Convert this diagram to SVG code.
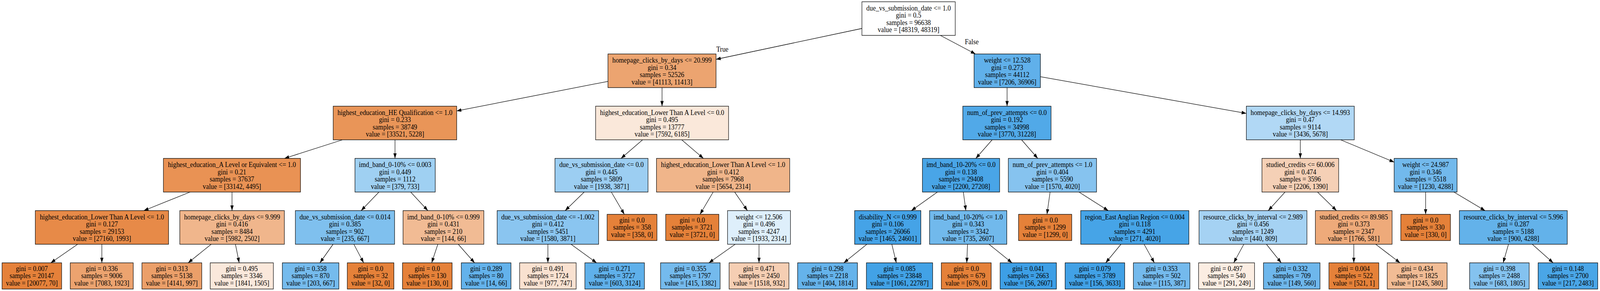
<svg xmlns="http://www.w3.org/2000/svg" width="4509" height="744" viewBox="0 0 4509 744" preserveAspectRatio="none" style="width:100vw;height:100vh;display:block">
<style>
.n rect{stroke:#000;stroke-width:1.3}
text{font-family:"Liberation Serif","Times New Roman",serif;font-size:18.5px;text-anchor:middle;fill:#000}
.e line{stroke:#000;stroke-width:1.3;marker-end:url(#a)}
</style>
<defs>
<marker id="a" markerUnits="userSpaceOnUse" markerWidth="14" markerHeight="10" refX="13.2" refY="4.6" orient="auto"><path d="M0,0L13.2,4.6L0,9.2z" fill="#000"/></marker>
</defs>
<rect x="0" y="0" width="4509" height="744" fill="#fff"/>
<g id="edges" class="e">
<line x1="2429" y1="72.76" x2="2017.9" y2="151.74"/>
<line x1="2650" y1="90.5" x2="2749" y2="138"/>
<line x1="1713.3" y1="208.02" x2="1287" y2="283.63"/>
<line x1="1865.7" y1="224" x2="1865.7" y2="271.5"/>
<line x1="2838.1" y1="224" x2="2838.1" y2="271.5"/>
<line x1="2932" y1="196.11" x2="3512.3" y2="289.91"/>
<line x1="965.04" y1="357.5" x2="801.6" y2="405"/>
<line x1="1113.2" y1="357.5" x2="1113.2" y2="405"/>
<line x1="1810.84" y1="357.5" x2="1750.06" y2="405"/>
<line x1="1921.22" y1="357.5" x2="1982.38" y2="405"/>
<line x1="2795.99" y1="357.5" x2="2749.96" y2="405"/>
<line x1="2878.96" y1="357.5" x2="2924.59" y2="405"/>
<line x1="3664.4" y1="357.5" x2="3664.4" y2="405"/>
<line x1="3778.15" y1="357.5" x2="3928.9" y2="414.49"/>
<line x1="535.63" y1="491" x2="405.27" y2="538.5"/>
<line x1="653.85" y1="491" x2="653.85" y2="538.5"/>
<line x1="1067.95" y1="491" x2="1017.7" y2="538.5"/>
<line x1="1157.32" y1="491" x2="1205.78" y2="538.5"/>
<line x1="1646.4" y1="491" x2="1592.65" y2="538.5"/>
<line x1="1722.78" y1="491" x2="1759.54" y2="548"/>
<line x1="2009.78" y1="491" x2="1972.69" y2="548"/>
<line x1="2070.35" y1="491" x2="2106.35" y2="538.5"/>
<line x1="2641.79" y1="491" x2="2568.31" y2="538.5"/>
<line x1="2714.79" y1="491" x2="2721.96" y2="538.5"/>
<line x1="2959.28" y1="491" x2="2950.51" y2="548"/>
<line x1="3040.66" y1="491" x2="3123.24" y2="538.5"/>
<line x1="3621.45" y1="491" x2="3574" y2="538.5"/>
<line x1="3712.91" y1="491" x2="3766.49" y2="538.5"/>
<line x1="4017.55" y1="491" x2="4017.55" y2="548"/>
<line x1="4097.17" y1="491" x2="4185.13" y2="538.5"/>
<line x1="218.76" y1="624.5" x2="143.11" y2="672"/>
<line x1="287" y1="624.5" x2="287" y2="672"/>
<line x1="595.19" y1="624.5" x2="530.16" y2="672"/>
<line x1="663.53" y1="624.5" x2="674.01" y2="672"/>
<line x1="938.62" y1="624.5" x2="901.51" y2="672"/>
<line x1="997.22" y1="624.5" x2="1024.86" y2="672"/>
<line x1="1233.89" y1="624.5" x2="1216.48" y2="672"/>
<line x1="1291.38" y1="624.5" x2="1337.49" y2="672"/>
<line x1="1544" y1="624.5" x2="1544" y2="672"/>
<line x1="1609.24" y1="624.5" x2="1681.32" y2="672"/>
<line x1="2071.85" y1="624.5" x2="1997.73" y2="672"/>
<line x1="2139" y1="624.5" x2="2139" y2="672"/>
<line x1="2442.95" y1="624.5" x2="2377.95" y2="672"/>
<line x1="2513.3" y1="624.5" x2="2525.99" y2="672"/>
<line x1="2726.58" y1="624.5" x2="2724.51" y2="672"/>
<line x1="2787.17" y1="624.5" x2="2852.05" y2="672"/>
<line x1="3159.01" y1="624.5" x2="3115.93" y2="672"/>
<line x1="3224.23" y1="624.5" x2="3253.21" y2="672"/>
<line x1="3505.23" y1="624.5" x2="3476.71" y2="672"/>
<line x1="3568.92" y1="624.5" x2="3610.75" y2="672"/>
<line x1="3815.2" y1="624.5" x2="3815.2" y2="672"/>
<line x1="3876.98" y1="624.5" x2="3945.46" y2="672"/>
<line x1="4251.12" y1="624.5" x2="4236.07" y2="672"/>
<line x1="4318.1" y1="624.5" x2="4377.04" y2="672"/>
<text x="2035.7" y="131.8">True</text>
<text x="2738.5" y="113.4">False</text>
</g>

<g id="n0" class="n"><rect x="2429" y="4.5" width="263" height="86" fill="#ffffff"/>
<text x="2560.5" y="26.8">due_vs_submission_date &lt;= 1.0</text><text x="2560.5" y="45.3">gini = 0.5</text><text x="2560.5" y="63.8">samples = 96638</text><text x="2560.5" y="82.3">value = [48319, 48319]</text></g>

<g id="n1" class="n"><rect x="1713.3" y="138" width="304.6" height="86" fill="#eca470"/>
<text x="1865.6" y="160.3">homepage_clicks_by_days &lt;= 20.999</text><text x="1865.6" y="178.8">gini = 0.34</text><text x="1865.6" y="197.3">samples = 52526</text><text x="1865.6" y="215.8">value = [41113, 11413]</text></g>

<g id="n2" class="n"><rect x="2745" y="138" width="187" height="86" fill="#60b0ea"/>
<text x="2838.5" y="160.3">weight &lt;= 12.528</text><text x="2838.5" y="178.8">gini = 0.273</text><text x="2838.5" y="197.3">samples = 44112</text><text x="2838.5" y="215.8">value = [7206, 36906]</text></g>

<g id="n3" class="n"><rect x="939" y="271.5" width="348" height="86" fill="#e99558"/>
<text x="1113" y="293.8">highest_education_HE Qualification &lt;= 1.0</text><text x="1113" y="312.3">gini = 0.233</text><text x="1113" y="330.8">samples = 38749</text><text x="1113" y="349.3">value = [33521, 5228]</text></g>

<g id="n4" class="n"><rect x="1678.5" y="271.5" width="374.7" height="86" fill="#fae8da"/>
<text x="1865.85" y="293.8">highest_education_Lower Than A Level &lt;= 0.0</text><text x="1865.85" y="312.3">gini = 0.495</text><text x="1865.85" y="330.8">samples = 13777</text><text x="1865.85" y="349.3">value = [7592, 6185]</text></g>

<g id="n5" class="n"><rect x="2713.3" y="271.5" width="248.7" height="86" fill="#51a9e8"/>
<text x="2837.65" y="293.8">num_of_prev_attempts &lt;= 0.0</text><text x="2837.65" y="312.3">gini = 0.192</text><text x="2837.65" y="330.8">samples = 34998</text><text x="2837.65" y="349.3">value = [3770, 31228]</text></g>

<g id="n6" class="n"><rect x="3512.3" y="271.5" width="304.2" height="86" fill="#b1d8f5"/>
<text x="3664.4" y="293.8">homepage_clicks_by_days &lt;= 14.993</text><text x="3664.4" y="312.3">gini = 0.47</text><text x="3664.4" y="330.8">samples = 9114</text><text x="3664.4" y="349.3">value = [3436, 5678]</text></g>

<g id="n7" class="n"><rect x="460.5" y="405" width="386.3" height="86" fill="#e99254"/>
<text x="653.65" y="427.3">highest_education_A Level or Equivalent &lt;= 1.0</text><text x="653.65" y="445.8">gini = 0.21</text><text x="653.65" y="464.3">samples = 37637</text><text x="653.65" y="482.8">value = [33142, 4495]</text></g>

<g id="n8" class="n"><rect x="1000.3" y="405" width="226.3" height="86" fill="#9fd0f2"/>
<text x="1113.45" y="427.3">imd_band_0-10% &lt;= 0.003</text><text x="1113.45" y="445.8">gini = 0.449</text><text x="1113.45" y="464.3">samples = 1112</text><text x="1113.45" y="482.8">value = [379, 733]</text></g>

<g id="n9" class="n"><rect x="1563.9" y="405" width="262.3" height="86" fill="#9ccef2"/>
<text x="1695.05" y="427.3">due_vs_submission_date &lt;= 0.0</text><text x="1695.05" y="445.8">gini = 0.445</text><text x="1695.05" y="464.3">samples = 5809</text><text x="1695.05" y="482.8">value = [1938, 3871]</text></g>

<g id="n10" class="n"><rect x="1850" y="405" width="375.5" height="86" fill="#f0b58a"/>
<text x="2037.75" y="427.3">highest_education_Lower Than A Level &lt;= 1.0</text><text x="2037.75" y="445.8">gini = 0.412</text><text x="2037.75" y="464.3">samples = 7968</text><text x="2037.75" y="482.8">value = [5654, 2314]</text></g>

<g id="n11" class="n"><rect x="2599.5" y="405" width="217.6" height="86" fill="#49a5e7"/>
<text x="2708.3" y="427.3">imd_band_10-20% &lt;= 0.0</text><text x="2708.3" y="445.8">gini = 0.138</text><text x="2708.3" y="464.3">samples = 29408</text><text x="2708.3" y="482.8">value = [2200, 27208]</text></g>

<g id="n12" class="n"><rect x="2841.6" y="405" width="248.6" height="86" fill="#86c3ef"/>
<text x="2965.9" y="427.3">num_of_prev_attempts &lt;= 1.0</text><text x="2965.9" y="445.8">gini = 0.404</text><text x="2965.9" y="464.3">samples = 5590</text><text x="2965.9" y="482.8">value = [1570, 4020]</text></g>

<g id="n13" class="n"><rect x="3556.3" y="405" width="216.2" height="86" fill="#f5d0b6"/>
<text x="3664.4" y="427.3">studied_credits &lt;= 60.006</text><text x="3664.4" y="445.8">gini = 0.474</text><text x="3664.4" y="464.3">samples = 3596</text><text x="3664.4" y="482.8">value = [2206, 1390]</text></g>

<g id="n14" class="n"><rect x="3928.9" y="405" width="177.3" height="86" fill="#72b9ec"/>
<text x="4017.55" y="427.3">weight &lt;= 24.987</text><text x="4017.55" y="445.8">gini = 0.346</text><text x="4017.55" y="464.3">samples = 5518</text><text x="4017.55" y="482.8">value = [1230, 4288]</text></g>

<g id="n15" class="n"><rect x="99.5" y="538.5" width="375.5" height="86" fill="#e78a48"/>
<text x="287.25" y="560.8">highest_education_Lower Than A Level &lt;= 1.0</text><text x="287.25" y="579.3">gini = 0.127</text><text x="287.25" y="597.8">samples = 29153</text><text x="287.25" y="616.3">value = [27160, 1993]</text></g>

<g id="n16" class="n"><rect x="506.7" y="538.5" width="294.7" height="86" fill="#f0b68c"/>
<text x="654.05" y="560.8">homepage_clicks_by_days &lt;= 9.999</text><text x="654.05" y="579.3">gini = 0.416</text><text x="654.05" y="597.8">samples = 8484</text><text x="654.05" y="616.3">value = [5982, 2502]</text></g>

<g id="n17" class="n"><rect x="832.4" y="538.5" width="279.6" height="86" fill="#7fc0ee"/>
<text x="972.2" y="560.8">due_vs_submission_date &lt;= 0.014</text><text x="972.2" y="579.3">gini = 0.385</text><text x="972.2" y="597.8">samples = 902</text><text x="972.2" y="616.3">value = [235, 667]</text></g>

<g id="n18" class="n"><rect x="1135.8" y="538.5" width="227.7" height="86" fill="#f1bb94"/>
<text x="1249.65" y="560.8">imd_band_0-10% &lt;= 0.999</text><text x="1249.65" y="579.3">gini = 0.431</text><text x="1249.65" y="597.8">samples = 210</text><text x="1249.65" y="616.3">value = [144, 66]</text></g>

<g id="n19" class="n"><rect x="1401" y="538.5" width="286" height="86" fill="#8ac5f0"/>
<text x="1544" y="560.8">due_vs_submission_date &lt;= -1.002</text><text x="1544" y="579.3">gini = 0.412</text><text x="1544" y="597.8">samples = 5451</text><text x="1544" y="616.3">value = [1580, 3871]</text></g>

<g id="n20" class="n"><rect x="1710.9" y="548" width="140.5" height="67" fill="#e58139"/>
<text x="1781.15" y="568.9">gini = 0.0</text><text x="1781.15" y="587.3">samples = 358</text><text x="1781.15" y="605.7">value = [358, 0]</text></g>

<g id="n21" class="n"><rect x="1876" y="548" width="149.8" height="67" fill="#e58139"/>
<text x="1950.9" y="568.9">gini = 0.0</text><text x="1950.9" y="587.3">samples = 3721</text><text x="1950.9" y="605.7">value = [3721, 0]</text></g>

<g id="n22" class="n"><rect x="2050.3" y="538.5" width="177.3" height="86" fill="#deeffb"/>
<text x="2138.95" y="560.8">weight &lt;= 12.506</text><text x="2138.95" y="579.3">gini = 0.496</text><text x="2138.95" y="597.8">samples = 4247</text><text x="2138.95" y="616.3">value = [1933, 2314]</text></g>

<g id="n23" class="n"><rect x="2408.5" y="538.5" width="186.6" height="86" fill="#45a3e7"/>
<text x="2501.8" y="560.8">disability_N &lt;= 0.999</text><text x="2501.8" y="579.3">gini = 0.106</text><text x="2501.8" y="597.8">samples = 26066</text><text x="2501.8" y="616.3">value = [1465, 24601]</text></g>

<g id="n24" class="n"><rect x="2619.6" y="538.5" width="217.7" height="86" fill="#71b9ec"/>
<text x="2728.45" y="560.8">imd_band_10-20% &lt;= 1.0</text><text x="2728.45" y="579.3">gini = 0.343</text><text x="2728.45" y="597.8">samples = 3342</text><text x="2728.45" y="616.3">value = [735, 2607]</text></g>

<g id="n25" class="n"><rect x="2870.4" y="548" width="149.9" height="67" fill="#e58139"/>
<text x="2945.35" y="568.9">gini = 0.0</text><text x="2945.35" y="587.3">samples = 1299</text><text x="2945.35" y="605.7">value = [1299, 0]</text></g>

<g id="n26" class="n"><rect x="3045.6" y="538.5" width="304.8" height="86" fill="#46a4e7"/>
<text x="3198" y="560.8">region_East Anglian Region &lt;= 0.004</text><text x="3198" y="579.3">gini = 0.118</text><text x="3198" y="597.8">samples = 4291</text><text x="3198" y="616.3">value = [271, 4020]</text></g>

<g id="n27" class="n"><rect x="3379" y="538.5" width="304.1" height="86" fill="#a5d2f3"/>
<text x="3531.05" y="560.8">resource_clicks_by_interval &lt;= 2.989</text><text x="3531.05" y="579.3">gini = 0.456</text><text x="3531.05" y="597.8">samples = 1249</text><text x="3531.05" y="616.3">value = [440, 809]</text></g>

<g id="n28" class="n"><rect x="3706.9" y="538.5" width="216.2" height="86" fill="#eeaa7a"/>
<text x="3815" y="560.8">studied_credits &lt;= 89.985</text><text x="3815" y="579.3">gini = 0.373</text><text x="3815" y="597.8">samples = 2347</text><text x="3815" y="616.3">value = [1766, 581]</text></g>

<g id="n29" class="n"><rect x="3947.6" y="548" width="139.9" height="67" fill="#e58139"/>
<text x="4017.55" y="568.9">gini = 0.0</text><text x="4017.55" y="587.3">samples = 330</text><text x="4017.55" y="605.7">value = [330, 0]</text></g>

<g id="n30" class="n"><rect x="4112.7" y="538.5" width="304.1" height="86" fill="#63b2ea"/>
<text x="4264.75" y="560.8">resource_clicks_by_interval &lt;= 5.996</text><text x="4264.75" y="579.3">gini = 0.287</text><text x="4264.75" y="597.8">samples = 5188</text><text x="4264.75" y="616.3">value = [900, 4288]</text></g>

<g id="n31" class="n"><rect x="5.8" y="672" width="167.9" height="67" fill="#e5813a"/>
<text x="89.75" y="692.9">gini = 0.007</text><text x="89.75" y="711.3">samples = 20147</text><text x="89.75" y="729.7">value = [20077, 70]</text></g>

<g id="n32" class="n"><rect x="198" y="672" width="177.5" height="67" fill="#eca36f"/>
<text x="286.75" y="692.9">gini = 0.336</text><text x="286.75" y="711.3">samples = 9006</text><text x="286.75" y="729.7">value = [7083, 1923]</text></g>

<g id="n33" class="n"><rect x="400" y="672" width="168.6" height="67" fill="#eb9f69"/>
<text x="484.3" y="692.9">gini = 0.313</text><text x="484.3" y="711.3">samples = 5138</text><text x="484.3" y="729.7">value = [4141, 997]</text></g>

<g id="n34" class="n"><rect x="592.4" y="672" width="178" height="67" fill="#fae8db"/>
<text x="681.4" y="692.9">gini = 0.495</text><text x="681.4" y="711.3">samples = 3346</text><text x="681.4" y="729.7">value = [1841, 1505]</text></g>

<g id="n35" class="n"><rect x="795.7" y="672" width="159.3" height="67" fill="#75bbed"/>
<text x="875.35" y="692.9">gini = 0.358</text><text x="875.35" y="711.3">samples = 870</text><text x="875.35" y="729.7">value = [203, 667]</text></g>

<g id="n36" class="n"><rect x="978.7" y="672" width="131.3" height="67" fill="#e58139"/>
<text x="1044.35" y="692.9">gini = 0.0</text><text x="1044.35" y="711.3">samples = 32</text><text x="1044.35" y="729.7">value = [32, 0]</text></g>

<g id="n37" class="n"><rect x="1134.3" y="672" width="139.8" height="67" fill="#e58139"/>
<text x="1204.2" y="692.9">gini = 0.0</text><text x="1204.2" y="711.3">samples = 130</text><text x="1204.2" y="729.7">value = [130, 0]</text></g>

<g id="n38" class="n"><rect x="1300" y="672" width="140" height="67" fill="#63b2eb"/>
<text x="1370" y="692.9">gini = 0.289</text><text x="1370" y="711.3">samples = 80</text><text x="1370" y="729.7">value = [14, 66]</text></g>

<g id="n39" class="n"><rect x="1464.4" y="672" width="159.3" height="67" fill="#f9e1d0"/>
<text x="1544.05" y="692.9">gini = 0.491</text><text x="1544.05" y="711.3">samples = 1724</text><text x="1544.05" y="729.7">value = [977, 747]</text></g>

<g id="n40" class="n"><rect x="1648.2" y="672" width="167.9" height="67" fill="#5fb0ea"/>
<text x="1732.15" y="692.9">gini = 0.271</text><text x="1732.15" y="711.3">samples = 3727</text><text x="1732.15" y="729.7">value = [603, 3124]</text></g>

<g id="n41" class="n"><rect x="1861.5" y="672" width="167.9" height="67" fill="#74baed"/>
<text x="1945.45" y="692.9">gini = 0.355</text><text x="1945.45" y="711.3">samples = 1797</text><text x="1945.45" y="729.7">value = [415, 1382]</text></g>

<g id="n42" class="n"><rect x="2054.7" y="672" width="168.6" height="67" fill="#f5ceb3"/>
<text x="2139" y="692.9">gini = 0.471</text><text x="2139" y="711.3">samples = 2450</text><text x="2139" y="729.7">value = [1518, 932]</text></g>

<g id="n43" class="n"><rect x="2247.8" y="672" width="168.6" height="67" fill="#65b3eb"/>
<text x="2332.1" y="692.9">gini = 0.298</text><text x="2332.1" y="711.3">samples = 2218</text><text x="2332.1" y="729.7">value = [404, 1814]</text></g>

<g id="n44" class="n"><rect x="2441.6" y="672" width="186.7" height="67" fill="#42a2e6"/>
<text x="2534.95" y="692.9">gini = 0.085</text><text x="2534.95" y="711.3">samples = 23848</text><text x="2534.95" y="729.7">value = [1061, 22787]</text></g>

<g id="n45" class="n"><rect x="2652.8" y="672" width="140.5" height="67" fill="#e58139"/>
<text x="2723.05" y="692.9">gini = 0.0</text><text x="2723.05" y="711.3">samples = 679</text><text x="2723.05" y="729.7">value = [679, 0]</text></g>

<g id="n46" class="n"><rect x="2818.5" y="672" width="158.6" height="67" fill="#3d9fe6"/>
<text x="2897.8" y="692.9">gini = 0.041</text><text x="2897.8" y="711.3">samples = 2663</text><text x="2897.8" y="729.7">value = [56, 2607]</text></g>

<g id="n47" class="n"><rect x="3001.6" y="672" width="167.9" height="67" fill="#41a1e6"/>
<text x="3085.55" y="692.9">gini = 0.079</text><text x="3085.55" y="711.3">samples = 3789</text><text x="3085.55" y="729.7">value = [156, 3633]</text></g>

<g id="n48" class="n"><rect x="3194" y="672" width="159.3" height="67" fill="#74baed"/>
<text x="3273.65" y="692.9">gini = 0.353</text><text x="3273.65" y="711.3">samples = 502</text><text x="3273.65" y="729.7">value = [115, 387]</text></g>

<g id="n49" class="n"><rect x="3377.8" y="672" width="157.6" height="67" fill="#fbede2"/>
<text x="3456.6" y="692.9">gini = 0.497</text><text x="3456.6" y="711.3">samples = 540</text><text x="3456.6" y="729.7">value = [291, 249]</text></g>

<g id="n50" class="n"><rect x="3560.6" y="672" width="159.3" height="67" fill="#6eb7ec"/>
<text x="3640.25" y="692.9">gini = 0.332</text><text x="3640.25" y="711.3">samples = 709</text><text x="3640.25" y="729.7">value = [149, 560]</text></g>

<g id="n51" class="n"><rect x="3745.1" y="672" width="140.5" height="67" fill="#e58139"/>
<text x="3815.35" y="692.9">gini = 0.004</text><text x="3815.35" y="711.3">samples = 522</text><text x="3815.35" y="729.7">value = [521, 1]</text></g>

<g id="n52" class="n"><rect x="3909.4" y="672" width="168.7" height="67" fill="#f1bc95"/>
<text x="3993.75" y="692.9">gini = 0.434</text><text x="3993.75" y="711.3">samples = 1825</text><text x="3993.75" y="729.7">value = [1245, 580]</text></g>

<g id="n53" class="n"><rect x="4141.5" y="672" width="167.9" height="67" fill="#84c2ef"/>
<text x="4225.45" y="692.9">gini = 0.398</text><text x="4225.45" y="711.3">samples = 2488</text><text x="4225.45" y="729.7">value = [683, 1805]</text></g>

<g id="n54" class="n"><rect x="4334.6" y="672" width="168" height="67" fill="#4aa6e7"/>
<text x="4418.6" y="692.9">gini = 0.148</text><text x="4418.6" y="711.3">samples = 2700</text><text x="4418.6" y="729.7">value = [217, 2483]</text></g>
</svg>
